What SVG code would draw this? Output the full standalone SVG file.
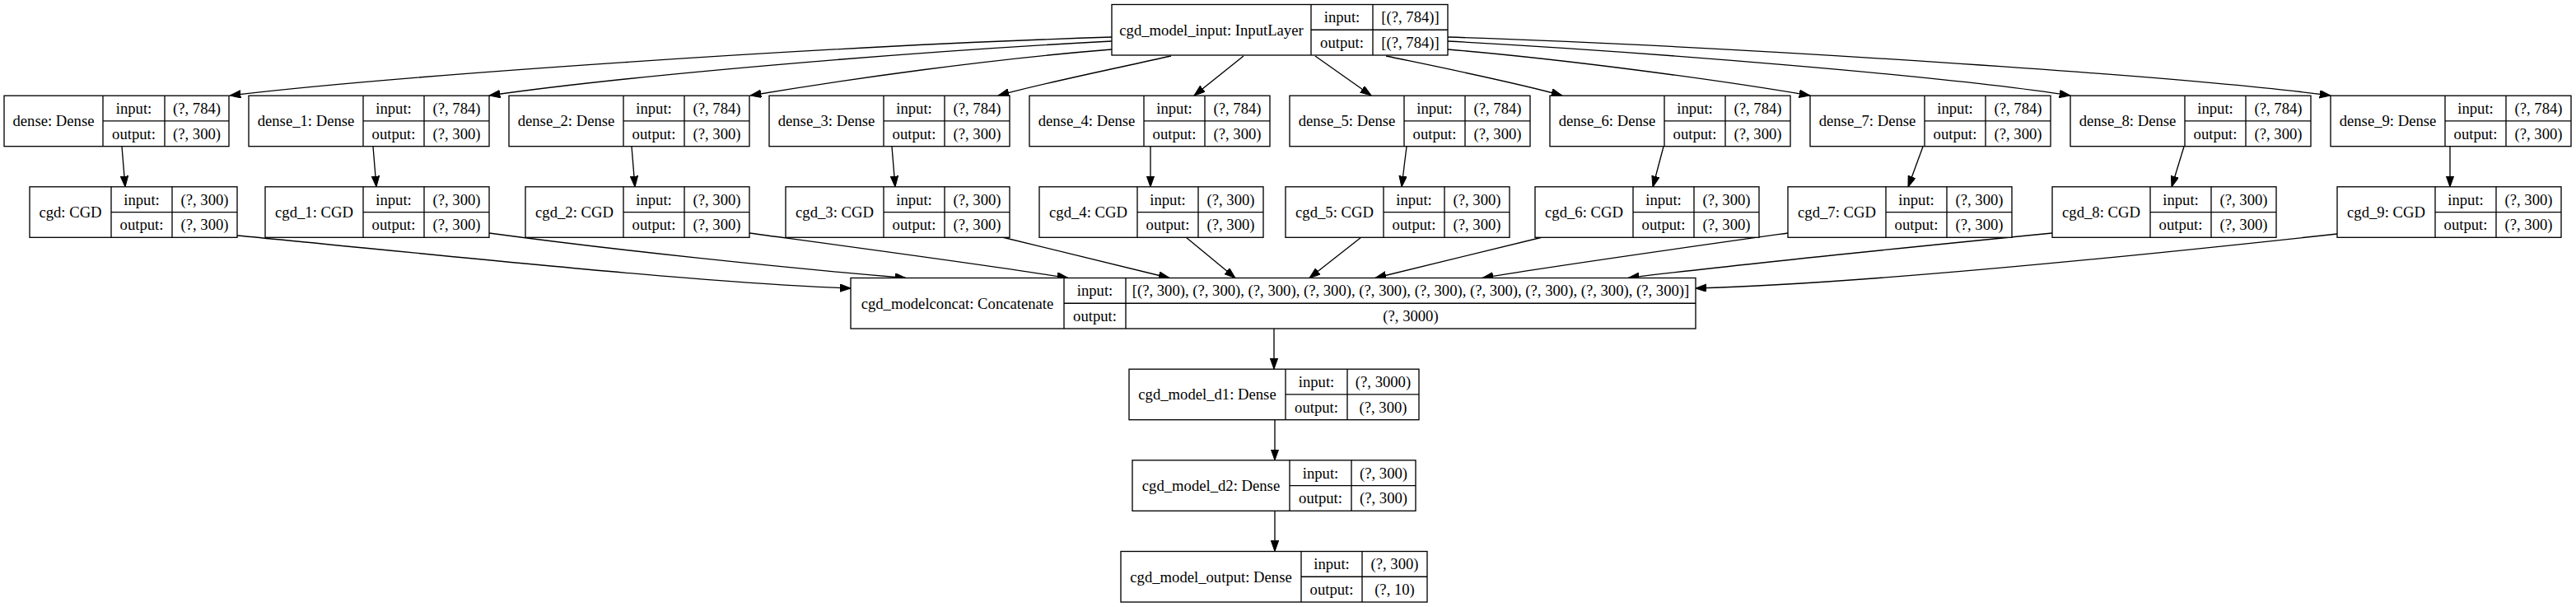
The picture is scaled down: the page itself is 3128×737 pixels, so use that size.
<svg xmlns="http://www.w3.org/2000/svg" width="3128" height="737" viewBox="0 0 3128 737">
<style>
.n rect{fill:#fff;stroke:#000;stroke-width:1.33}
.n line{stroke:#000;stroke-width:1.33}
.n text{font-family:"Liberation Serif","Times New Roman",serif;font-size:18.67px;fill:#000;text-anchor:middle}
.e path{fill:none;stroke:#000;stroke-width:1.33}
</style>
<defs>
<marker id="ah" markerUnits="userSpaceOnUse" markerWidth="14" markerHeight="10" refX="13.3" refY="4.7" orient="auto">
<path d="M0,0 L13.3,4.7 L0,9.4 Z" fill="#000" stroke="#000" stroke-width="1"/>
</marker>
</defs>
<rect width="3128" height="737" fill="#fff"/>

<g class="e" marker-end="url(#ah)">
<path d="M1350,45 C1000,56 480,92 279,116" marker-end="url(#ah)"/>
<path d="M1350,50 C1100,63 760,92 594,116" marker-end="url(#ah)"/>
<path d="M1350,60 C1200,72 1030,96 911,116" marker-end="url(#ah)"/>
<path d="M1422,68 C1360,82 1270,100 1212,116" marker-end="url(#ah)"/>
<path d="M1510,68 L1450,116" marker-end="url(#ah)"/>
<path d="M1597,68 L1665,116" marker-end="url(#ah)"/>
<path d="M1683,68 C1750,82 1840,100 1897,116" marker-end="url(#ah)"/>
<path d="M1758,60 C1900,72 2080,96 2198,116" marker-end="url(#ah)"/>
<path d="M1758,50 C2000,63 2360,92 2514,116" marker-end="url(#ah)"/>
<path d="M1758,45 C2100,56 2650,92 2830,116" marker-end="url(#ah)"/>

<path d="M148,178 L152,227" marker-end="url(#ah)"/>
<path d="M453,178 L457,227" marker-end="url(#ah)"/>
<path d="M767,178 L771,227" marker-end="url(#ah)"/>
<path d="M1083,178 L1087,227" marker-end="url(#ah)"/>
<path d="M1397,178 L1397,227" marker-end="url(#ah)"/>
<path d="M1708,178 L1702,227" marker-end="url(#ah)"/>
<path d="M2020,178 L2007,227" marker-end="url(#ah)"/>
<path d="M2335,178 L2317,227" marker-end="url(#ah)"/>
<path d="M2652,178 L2637,227" marker-end="url(#ah)"/>
<path d="M2975,178 L2975,227" marker-end="url(#ah)"/>

<path d="M288,286 C500,306 850,344 1033,350" marker-end="url(#ah)"/>
<path d="M594,283 C750,304 950,325 1100,337.5" marker-end="url(#ah)"/>
<path d="M910,283 C1050,302 1200,322 1297,337.5" marker-end="url(#ah)"/>
<path d="M1217,288 L1420,337.5" marker-end="url(#ah)"/>
<path d="M1440,288 L1500,337.5" marker-end="url(#ah)"/>
<path d="M1653,288 L1590,337.5" marker-end="url(#ah)"/>
<path d="M1873,288 L1670,337.5" marker-end="url(#ah)"/>
<path d="M2171,283 C2050,300 1900,321 1800,337.5" marker-end="url(#ah)"/>
<path d="M2492,283 C2300,302 2100,322 1977,337.5" marker-end="url(#ah)"/>
<path d="M2838,284 C2600,310 2250,345 2059,350" marker-end="url(#ah)"/>

<path d="M1547,399 L1547,448.2" marker-end="url(#ah)"/>
<path d="M1548,509.7 L1548,558.8" marker-end="url(#ah)"/>
<path d="M1548,620.3 L1548,669.5" marker-end="url(#ah)"/>
</g>

<g id="cgd_model_input" class="n">
<rect x="1350" y="5.5" width="408" height="61.5"/>
<line x1="1592" y1="5.5" x2="1592" y2="67"/><line x1="1667" y1="5.5" x2="1667" y2="67"/><line x1="1592" y1="36.25" x2="1758" y2="36.25"/>
<text x="1471" y="42.7">cgd_model_input: InputLayer</text>
<text x="1629.5" y="27.3">input:</text><text x="1629.5" y="58">output:</text>
<text x="1712.5" y="27.3">[(?, 784)]</text><text x="1712.5" y="58">[(?, 784)]</text>
</g>

<g id="dense" class="n">
<rect x="5" y="116.2" width="273" height="61.5"/>
<line x1="125" y1="116.2" x2="125" y2="177.7"/><line x1="200" y1="116.2" x2="200" y2="177.7"/><line x1="125" y1="146.95" x2="278" y2="146.95"/>
<text x="65" y="153.4">dense: Dense</text>
<text x="162.5" y="138">input:</text><text x="162.5" y="168.7">output:</text>
<text x="239" y="138">(?, 784)</text><text x="239" y="168.7">(?, 300)</text>
</g>
<g id="dense_1" class="n">
<rect x="302" y="116.2" width="292" height="61.5"/>
<line x1="441" y1="116.2" x2="441" y2="177.7"/><line x1="515" y1="116.2" x2="515" y2="177.7"/><line x1="441" y1="146.95" x2="594" y2="146.95"/>
<text x="371.5" y="153.4">dense_1: Dense</text>
<text x="478" y="138">input:</text><text x="478" y="168.7">output:</text>
<text x="554.5" y="138">(?, 784)</text><text x="554.5" y="168.7">(?, 300)</text>
</g>
<g id="dense_2" class="n">
<rect x="618" y="116.2" width="292" height="61.5"/>
<line x1="757" y1="116.2" x2="757" y2="177.7"/><line x1="831" y1="116.2" x2="831" y2="177.7"/><line x1="757" y1="146.95" x2="910" y2="146.95"/>
<text x="687.5" y="153.4">dense_2: Dense</text>
<text x="794" y="138">input:</text><text x="794" y="168.7">output:</text>
<text x="870.5" y="138">(?, 784)</text><text x="870.5" y="168.7">(?, 300)</text>
</g>
<g id="dense_3" class="n">
<rect x="934" y="116.2" width="292" height="61.5"/>
<line x1="1073" y1="116.2" x2="1073" y2="177.7"/><line x1="1147" y1="116.2" x2="1147" y2="177.7"/><line x1="1073" y1="146.95" x2="1226" y2="146.95"/>
<text x="1003.5" y="153.4">dense_3: Dense</text>
<text x="1110" y="138">input:</text><text x="1110" y="168.7">output:</text>
<text x="1186.5" y="138">(?, 784)</text><text x="1186.5" y="168.7">(?, 300)</text>
</g>
<g id="dense_4" class="n">
<rect x="1250" y="116.2" width="292" height="61.5"/>
<line x1="1389" y1="116.2" x2="1389" y2="177.7"/><line x1="1463" y1="116.2" x2="1463" y2="177.7"/><line x1="1389" y1="146.95" x2="1542" y2="146.95"/>
<text x="1319.5" y="153.4">dense_4: Dense</text>
<text x="1426" y="138">input:</text><text x="1426" y="168.7">output:</text>
<text x="1502.5" y="138">(?, 784)</text><text x="1502.5" y="168.7">(?, 300)</text>
</g>
<g id="dense_5" class="n">
<rect x="1566" y="116.2" width="292" height="61.5"/>
<line x1="1705" y1="116.2" x2="1705" y2="177.7"/><line x1="1779" y1="116.2" x2="1779" y2="177.7"/><line x1="1705" y1="146.95" x2="1858" y2="146.95"/>
<text x="1635.5" y="153.4">dense_5: Dense</text>
<text x="1742" y="138">input:</text><text x="1742" y="168.7">output:</text>
<text x="1818.5" y="138">(?, 784)</text><text x="1818.5" y="168.7">(?, 300)</text>
</g>
<g id="dense_6" class="n">
<rect x="1882" y="116.2" width="292" height="61.5"/>
<line x1="2021" y1="116.2" x2="2021" y2="177.7"/><line x1="2095" y1="116.2" x2="2095" y2="177.7"/><line x1="2021" y1="146.95" x2="2174" y2="146.95"/>
<text x="1951.5" y="153.4">dense_6: Dense</text>
<text x="2058" y="138">input:</text><text x="2058" y="168.7">output:</text>
<text x="2134.5" y="138">(?, 784)</text><text x="2134.5" y="168.7">(?, 300)</text>
</g>
<g id="dense_7" class="n">
<rect x="2198" y="116.2" width="292" height="61.5"/>
<line x1="2337" y1="116.2" x2="2337" y2="177.7"/><line x1="2411" y1="116.2" x2="2411" y2="177.7"/><line x1="2337" y1="146.95" x2="2490" y2="146.95"/>
<text x="2267.5" y="153.4">dense_7: Dense</text>
<text x="2374" y="138">input:</text><text x="2374" y="168.7">output:</text>
<text x="2450.5" y="138">(?, 784)</text><text x="2450.5" y="168.7">(?, 300)</text>
</g>
<g id="dense_8" class="n">
<rect x="2514" y="116.2" width="292" height="61.5"/>
<line x1="2653" y1="116.2" x2="2653" y2="177.7"/><line x1="2727" y1="116.2" x2="2727" y2="177.7"/><line x1="2653" y1="146.95" x2="2806" y2="146.95"/>
<text x="2583.5" y="153.4">dense_8: Dense</text>
<text x="2690" y="138">input:</text><text x="2690" y="168.7">output:</text>
<text x="2766.5" y="138">(?, 784)</text><text x="2766.5" y="168.7">(?, 300)</text>
</g>
<g id="dense_9" class="n">
<rect x="2830" y="116.2" width="292" height="61.5"/>
<line x1="2969" y1="116.2" x2="2969" y2="177.7"/><line x1="3043" y1="116.2" x2="3043" y2="177.7"/><line x1="2969" y1="146.95" x2="3122" y2="146.95"/>
<text x="2899.5" y="153.4">dense_9: Dense</text>
<text x="3006" y="138">input:</text><text x="3006" y="168.7">output:</text>
<text x="3082.5" y="138">(?, 784)</text><text x="3082.5" y="168.7">(?, 300)</text>
</g>

<g id="cgd" class="n">
<rect x="36" y="226.8" width="252" height="61.5"/>
<line x1="135" y1="226.8" x2="135" y2="288.3"/><line x1="209" y1="226.8" x2="209" y2="288.3"/><line x1="135" y1="257.55" x2="288" y2="257.55"/>
<text x="85.5" y="264">cgd: CGD</text>
<text x="172" y="248.6">input:</text><text x="172" y="279.3">output:</text>
<text x="248.5" y="248.6">(?, 300)</text><text x="248.5" y="279.3">(?, 300)</text>
</g>
<g id="cgd_1" class="n">
<rect x="322" y="226.8" width="272" height="61.5"/>
<line x1="441" y1="226.8" x2="441" y2="288.3"/><line x1="515" y1="226.8" x2="515" y2="288.3"/><line x1="441" y1="257.55" x2="594" y2="257.55"/>
<text x="381.5" y="264">cgd_1: CGD</text>
<text x="478" y="248.6">input:</text><text x="478" y="279.3">output:</text>
<text x="554.5" y="248.6">(?, 300)</text><text x="554.5" y="279.3">(?, 300)</text>
</g>
<g id="cgd_2" class="n">
<rect x="638" y="226.8" width="272" height="61.5"/>
<line x1="757" y1="226.8" x2="757" y2="288.3"/><line x1="831" y1="226.8" x2="831" y2="288.3"/><line x1="757" y1="257.55" x2="910" y2="257.55"/>
<text x="697.5" y="264">cgd_2: CGD</text>
<text x="794" y="248.6">input:</text><text x="794" y="279.3">output:</text>
<text x="870.5" y="248.6">(?, 300)</text><text x="870.5" y="279.3">(?, 300)</text>
</g>
<g id="cgd_3" class="n">
<rect x="954" y="226.8" width="272" height="61.5"/>
<line x1="1073" y1="226.8" x2="1073" y2="288.3"/><line x1="1147" y1="226.8" x2="1147" y2="288.3"/><line x1="1073" y1="257.55" x2="1226" y2="257.55"/>
<text x="1013.5" y="264">cgd_3: CGD</text>
<text x="1110" y="248.6">input:</text><text x="1110" y="279.3">output:</text>
<text x="1186.5" y="248.6">(?, 300)</text><text x="1186.5" y="279.3">(?, 300)</text>
</g>
<g id="cgd_4" class="n">
<rect x="1262" y="226.8" width="272" height="61.5"/>
<line x1="1381" y1="226.8" x2="1381" y2="288.3"/><line x1="1455" y1="226.8" x2="1455" y2="288.3"/><line x1="1381" y1="257.55" x2="1534" y2="257.55"/>
<text x="1321.5" y="264">cgd_4: CGD</text>
<text x="1418" y="248.6">input:</text><text x="1418" y="279.3">output:</text>
<text x="1494.5" y="248.6">(?, 300)</text><text x="1494.5" y="279.3">(?, 300)</text>
</g>
<g id="cgd_5" class="n">
<rect x="1561" y="226.8" width="272" height="61.5"/>
<line x1="1680" y1="226.8" x2="1680" y2="288.3"/><line x1="1754" y1="226.8" x2="1754" y2="288.3"/><line x1="1680" y1="257.55" x2="1833" y2="257.55"/>
<text x="1620.5" y="264">cgd_5: CGD</text>
<text x="1717" y="248.6">input:</text><text x="1717" y="279.3">output:</text>
<text x="1793.5" y="248.6">(?, 300)</text><text x="1793.5" y="279.3">(?, 300)</text>
</g>
<g id="cgd_6" class="n">
<rect x="1864" y="226.8" width="272" height="61.5"/>
<line x1="1983" y1="226.8" x2="1983" y2="288.3"/><line x1="2057" y1="226.8" x2="2057" y2="288.3"/><line x1="1983" y1="257.55" x2="2136" y2="257.55"/>
<text x="1923.5" y="264">cgd_6: CGD</text>
<text x="2020" y="248.6">input:</text><text x="2020" y="279.3">output:</text>
<text x="2096.5" y="248.6">(?, 300)</text><text x="2096.5" y="279.3">(?, 300)</text>
</g>
<g id="cgd_7" class="n">
<rect x="2171" y="226.8" width="272" height="61.5"/>
<line x1="2290" y1="226.8" x2="2290" y2="288.3"/><line x1="2364" y1="226.8" x2="2364" y2="288.3"/><line x1="2290" y1="257.55" x2="2443" y2="257.55"/>
<text x="2230.5" y="264">cgd_7: CGD</text>
<text x="2327" y="248.6">input:</text><text x="2327" y="279.3">output:</text>
<text x="2403.5" y="248.6">(?, 300)</text><text x="2403.5" y="279.3">(?, 300)</text>
</g>
<g id="cgd_8" class="n">
<rect x="2492" y="226.8" width="272" height="61.5"/>
<line x1="2611" y1="226.8" x2="2611" y2="288.3"/><line x1="2685" y1="226.8" x2="2685" y2="288.3"/><line x1="2611" y1="257.55" x2="2764" y2="257.55"/>
<text x="2551.5" y="264">cgd_8: CGD</text>
<text x="2648" y="248.6">input:</text><text x="2648" y="279.3">output:</text>
<text x="2724.5" y="248.6">(?, 300)</text><text x="2724.5" y="279.3">(?, 300)</text>
</g>
<g id="cgd_9" class="n">
<rect x="2838" y="226.8" width="272" height="61.5"/>
<line x1="2957" y1="226.8" x2="2957" y2="288.3"/><line x1="3031" y1="226.8" x2="3031" y2="288.3"/><line x1="2957" y1="257.55" x2="3110" y2="257.55"/>
<text x="2897.5" y="264">cgd_9: CGD</text>
<text x="2994" y="248.6">input:</text><text x="2994" y="279.3">output:</text>
<text x="3070.5" y="248.6">(?, 300)</text><text x="3070.5" y="279.3">(?, 300)</text>
</g>

<g id="cgd_modelconcat" class="n">
<rect x="1033" y="337.5" width="1026" height="61.5"/>
<line x1="1292" y1="337.5" x2="1292" y2="399"/><line x1="1367" y1="337.5" x2="1367" y2="399"/><line x1="1292" y1="368.25" x2="2059" y2="368.25"/>
<text x="1162.5" y="374.7">cgd_modelconcat: Concatenate</text>
<text x="1329.5" y="359.3">input:</text><text x="1329.5" y="390">output:</text>
<text x="1713" y="359.3">[(?, 300), (?, 300), (?, 300), (?, 300), (?, 300), (?, 300), (?, 300), (?, 300), (?, 300), (?, 300)]</text>
<text x="1713" y="390">(?, 3000)</text>
</g>

<g id="cgd_model_d1" class="n">
<rect x="1371" y="448.2" width="352" height="61.5"/>
<line x1="1561" y1="448.2" x2="1561" y2="509.7"/><line x1="1636" y1="448.2" x2="1636" y2="509.7"/><line x1="1561" y1="478.95" x2="1723" y2="478.95"/>
<text x="1466" y="485.4">cgd_model_d1: Dense</text>
<text x="1598.5" y="470">input:</text><text x="1598.5" y="500.7">output:</text>
<text x="1679.5" y="470">(?, 3000)</text><text x="1679.5" y="500.7">(?, 300)</text>
</g>

<g id="cgd_model_d2" class="n">
<rect x="1375" y="558.8" width="344" height="61.5"/>
<line x1="1566" y1="558.8" x2="1566" y2="620.3"/><line x1="1641" y1="558.8" x2="1641" y2="620.3"/><line x1="1566" y1="589.55" x2="1719" y2="589.55"/>
<text x="1470.5" y="596">cgd_model_d2: Dense</text>
<text x="1603.5" y="580.6">input:</text><text x="1603.5" y="611.3">output:</text>
<text x="1680" y="580.6">(?, 300)</text><text x="1680" y="611.3">(?, 300)</text>
</g>

<g id="cgd_model_output" class="n">
<rect x="1361" y="669.5" width="372" height="61.5"/>
<line x1="1580" y1="669.5" x2="1580" y2="731"/><line x1="1654" y1="669.5" x2="1654" y2="731"/><line x1="1580" y1="700.25" x2="1733" y2="700.25"/>
<text x="1470.5" y="706.7">cgd_model_output: Dense</text>
<text x="1617" y="691.3">input:</text><text x="1617" y="722">output:</text>
<text x="1693.5" y="691.3">(?, 300)</text><text x="1693.5" y="722">(?, 10)</text>
</g>
</svg>
